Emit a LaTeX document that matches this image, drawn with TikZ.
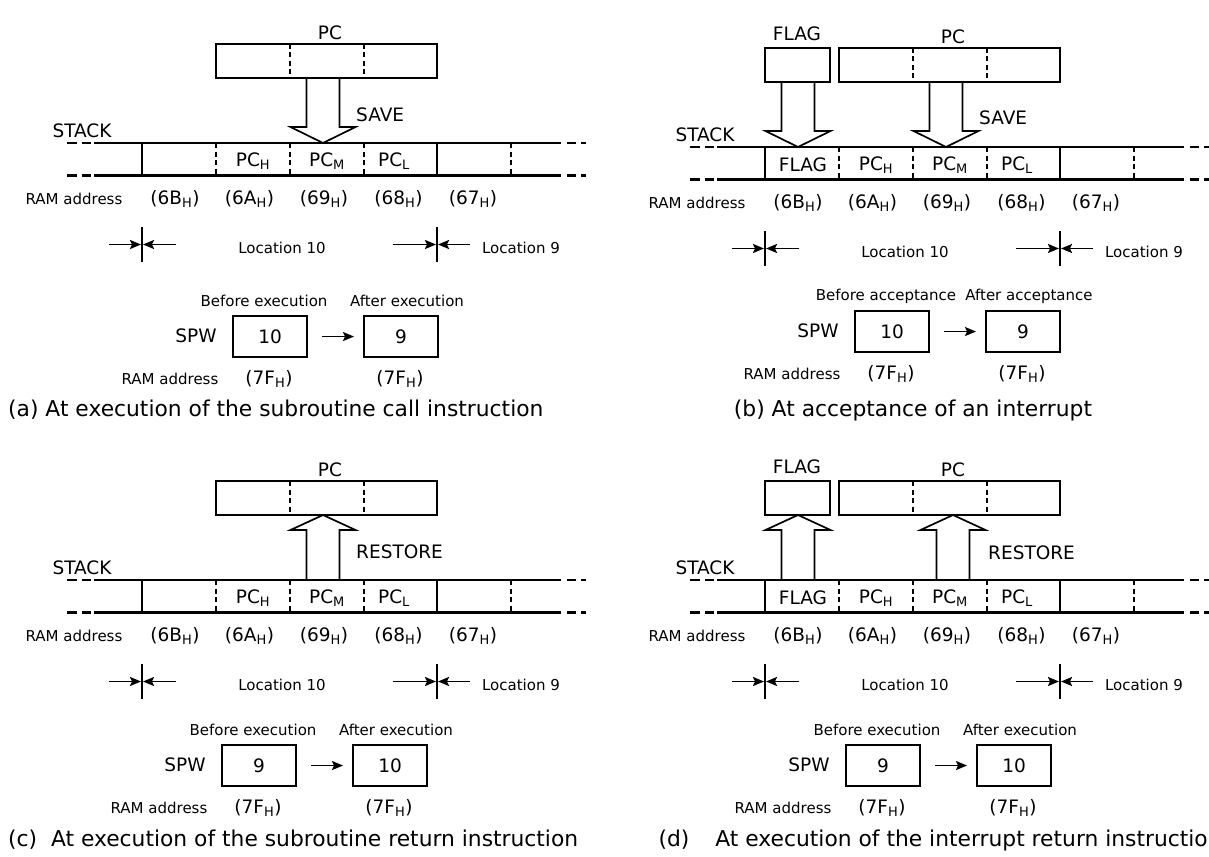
\documentclass[tikz,border=0pt]{standalone}
\usepackage{fontspec}
\setmainfont{DejaVu Sans}
\usetikzlibrary{arrows.meta}

\tikzset{
  reg/.style={draw, line width=2.1pt},
  divider/.style={line width=1.5pt, dash pattern=on 5pt off 3.5pt},
  stackline/.style={line width=2.1pt},
  blockarrow/.style={draw, line width=1.7pt, line join=miter},
  big/.style={inner sep=0pt, font=\fontsize{18.5}{22}\selectfont},
  small/.style={inner sep=0pt, font=\fontsize{15}{18}\selectfont},
  caption/.style={inner sep=0pt, font=\fontsize{21.8}{26}\selectfont},
  pointer/.style={line width=1.8pt, -{Stealth[length=11pt,width=9pt,inset=2pt]}},
  valbox/.style={reg, minimum width=74pt, minimum height=41pt, inner sep=0pt,
    font=\fontsize{18.5}{22}\selectfont},
}

\begin{document}
\begin{tikzpicture}[x=1pt, y=-1pt]
  \useasboundingbox (0,0) rectangle (1209,856);

  % stack, PC register, locations and SPW of every panel
  \foreach \p/\sx/\sy/\bx/\by/\old/\new/\when in
    {a/142/143/232/315/10/9/execution, b/765/147/854/310/10/9/acceptance,
     c/142/580/221/744/9/10/execution, d/765/580/845/744/9/10/execution} {
    \begin{scope}[shift={(\sx,\sy)}]
      \draw[reg] (74,-99) rectangle (295,-65);
      \foreach \x in {148,222} \draw[divider] (\x,-99) -- (\x,-65);
      \node[big] (pc\p) at (188,-110) {PC};

      \draw[stackline] (-48,0) -- (419,0) (-48,32.5) -- (419,32.5);
      \foreach \a/\b in {-75/-65, -60/-51, 425/434, 439/444}
        \draw[stackline] (\a,0) -- (\b,0) (\a,32.5) -- (\b,32.5);
      \draw[stackline] (0,0) -- (0,32.5) (295,0) -- (295,32.5);
      \foreach \x in {74,148,222,369} \draw[divider] (\x,0) -- (\x,32.5);
      \node[big] (stack\p) at (-60,-12) {STACK};

      \node[big] (pch\p) at (111,18) {PC\textsubscript{H}};
      \node[big] (pcm\p) at (185,18) {PC\textsubscript{M}};
      \node[big] (pcl\p) at (252,18) {PC\textsubscript{L}};

      \node[small] (ram\p) at (-68,56) {RAM address};
      \foreach \i/\a in {0/6B,1/6A,2/69,3/68,4/67}
        \node[big] (addr\p\i) at (33+74.5*\i,56) {(\a\textsubscript{H})};

      \coordinate (ten\p) at (0,101.5);
      \coordinate (nine\p) at (295,101.5);
      \draw[stackline] (0,84) -- (0,119) (295,84) -- (295,119);
      \draw[pointer] ([xshift=-33pt]ten\p) -- ([xshift=-1pt]ten\p);
      \draw[pointer] ([xshift=34pt]ten\p) -- ([xshift=1pt]ten\p);
      \draw[pointer] ([xshift=-44pt]nine\p) -- ([xshift=-1pt]nine\p);
      \draw[pointer] ([xshift=33pt]nine\p) -- ([xshift=1pt]nine\p);
      \node[small] (loc10\p) at (140,105) {Location 10};
      \node[small] (loc9\p) at (379,105) {Location 9};
    \end{scope}

    \begin{scope}[shift={(\bx,\by)}]
      \node[valbox, anchor=north west] (old\p) at (0,0) {\old};
      \node[valbox, anchor=north west] (new\p) at (131,0) {\new};
      \draw[pointer] ([xshift=14pt]old\p.east) -- ([xshift=-9pt]new\p.west);
      \node[small] (before\p) at (32,-14) {Before \when};
      \node[small] (after\p) at (175,-14) {After \when};
      \node[big] (spw\p) at (-36,21) {SPW};
      \node[small] (ramspw\p) at (-62,64) {RAM address};
      \node[big] (fold\p) at (37,64) {(7F\textsubscript{H})};
      \node[big] (fnew\p) at (168,64) {(7F\textsubscript{H})};
    \end{scope}
  }

  % FLAG register and FLAG cell
  \foreach \p/\sx/\sy in {b/765/147, d/765/580} {
    \begin{scope}[shift={(\sx,\sy)}]
      \draw[reg] (0,-99) rectangle (65,-65);
      \node[big] (flag\p) at (32,-113) {FLAG};
      \node[big] (flagcell\p) at (38,18) {FLAG};
    \end{scope}
  }

  % block arrows: save goes down, restore goes up
  \foreach \sx/\sy/\cx/\from/\neck/\to in
    {142/143/181/-65/-16/0, 765/147/33/-65/-16/0, 765/147/181/-65/-16/0,
     142/580/181/0/-50/-65, 765/580/33/0/-50/-65, 765/580/188/0/-50/-65} {
    \begin{scope}[shift={(\sx,\sy)}]
      \draw[blockarrow] ({\cx-16.5},\from) -- ({\cx-16.5},\neck)
        -- ({\cx-32.5},\neck) -- (\cx,\to) -- ({\cx+32.5},\neck)
        -- ({\cx+16.5},\neck) -- ({\cx+16.5},\from);
    \end{scope}
  }
  \node[big, anchor=west] (savea) at (356,115) {SAVE};
  \node[big, anchor=west] (saveb) at (979,118) {SAVE};
  \node[big, anchor=west] (restorec) at (356,552) {RESTORE};
  \node[big, anchor=west] (restored) at (988,553) {RESTORE};

  % captions
  \node[caption, anchor=west] (capa) at (8,410)
    {(a) At execution of the subroutine call instruction};
  \node[caption] (capb) at (913,410) {(b) At acceptance of an interrupt};
  \node[caption, anchor=west] (capc) at (8,840)
    {(c)\ \ At execution of the subroutine return instruction};
  \node[caption, anchor=east] (capd) at (1208,840)
    {(d)\hspace{26pt}At execution of the interrupt return instructio};
\end{tikzpicture}
\end{document}
